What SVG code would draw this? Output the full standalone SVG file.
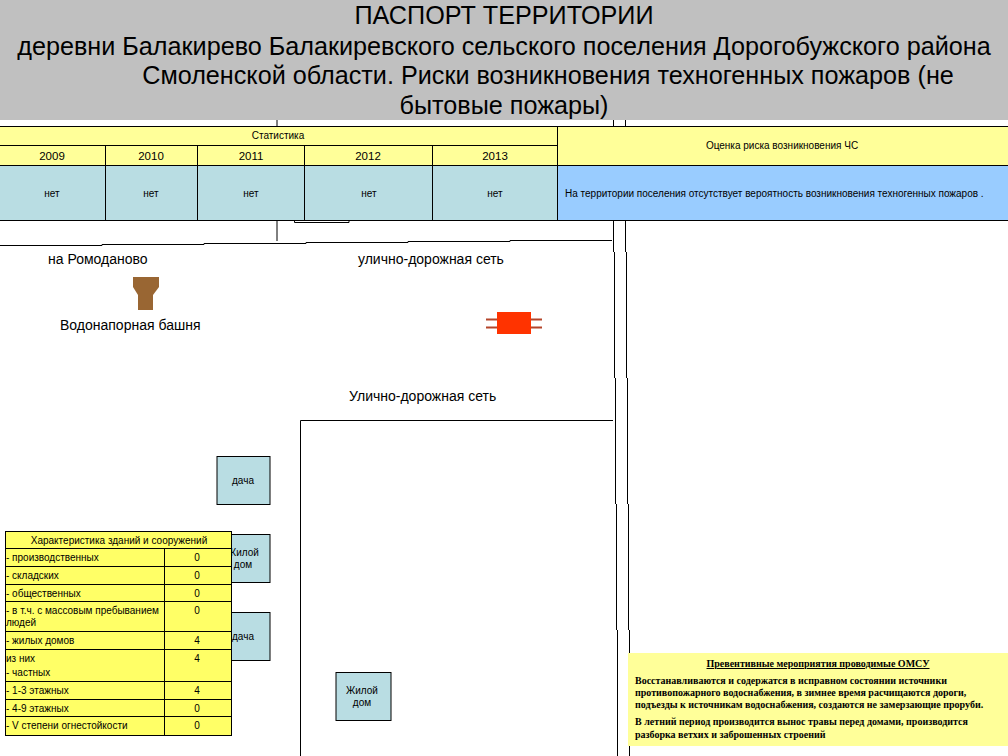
<svg xmlns="http://www.w3.org/2000/svg" width="1008" height="756" viewBox="0 0 1008 756">
<style>
text{font-family:"Liberation Sans",Arial,sans-serif;fill:#000}
.h{font-size:25.2px;text-anchor:middle}
.m{font-size:14px}
.s{font-size:10px;text-anchor:middle}
.t{font-size:10px}
.y{font-size:11.5px;text-anchor:middle}
.ln{fill:none;stroke:#000;stroke-width:1}
.b{fill:#b9dde3;stroke:#000;stroke-width:1}
.yl{fill:#ffff99;stroke:#000;stroke-width:1}
.yy{fill:#ffff66;stroke:#000;stroke-width:1}
.p{font-family:"Liberation Serif",serif;font-size:10px;font-weight:bold}
</style>
<rect width="1008" height="756" fill="#fff"/>
<g id="connectors">
<path class="ln" d="M277 120V241M613.500 120V252M614.500 252V378M615.500 378V504M616.500 504V630M617.500 630V756M625.500 120V252M626.500 252V378M627.500 378V504M628.500 504V630M629.500 630V756M0 245.500H102V244.500H204V243.500H306V242.500H408V241.500H510V240.500H612M294.500 220V222.500H349V220M300.500 756V420.500H613"/>
</g>
<g id="header">
<rect width="1008" height="120" fill="#c0c0c0"/>
<text class="h" x="504" y="24">ПАСПОРТ ТЕРРИТОРИИ</text>
<text class="h" x="504" y="55">деревни Балакирево Балакиревского сельского поселения  Дорогобужского района</text>
<text class="h" x="548" y="84">Смоленской области. Риски возникновения техногенных пожаров (не</text>
<text class="h" x="504" y="114">бытовые пожары)</text>
</g>
<g id="stat-table">
<rect class="yl" x="-1" y="126.500" width="558.500" height="19"/>
<text class="s" x="278" y="138.500">Статистика</text>
<rect class="yl" x="-1" y="145.500" width="106.500" height="20"/>
<rect class="yl" x="105.500" y="145.500" width="92" height="20"/>
<rect class="yl" x="197.500" y="145.500" width="107" height="20"/>
<rect class="yl" x="304.500" y="145.500" width="128" height="20"/>
<rect class="yl" x="432.500" y="145.500" width="125" height="20"/>
<text class="y" x="52" y="160">2009</text><text class="y" x="151" y="160">2010</text><text class="y" x="251" y="160">2011</text><text class="y" x="368" y="160">2012</text><text class="y" x="495" y="160">2013</text>
<rect class="b" x="-1" y="165.500" width="106.500" height="55"/>
<rect class="b" x="105.500" y="165.500" width="92" height="55"/>
<rect class="b" x="197.500" y="165.500" width="107" height="55"/>
<rect class="b" x="304.500" y="165.500" width="128" height="55"/>
<rect class="b" x="432.500" y="165.500" width="125" height="55"/>
<text class="s" x="52" y="197">нет</text><text class="s" x="151" y="197">нет</text><text class="s" x="251" y="197">нет</text><text class="s" x="369" y="197">нет</text><text class="s" x="495" y="197">нет</text>
<rect class="yl" x="557.500" y="126.500" width="452" height="39"/>
<text class="s" x="782" y="149">Оценка риска возникновения ЧС</text>
<rect x="557.500" y="165.500" width="452" height="55" fill="#99ccff" stroke="#000"/>
<text class="t" x="565" y="197">На территории поселения отсутствует вероятность возникновения техногенных пожаров .</text>
</g>
<g id="labels">
<text class="m" x="48" y="264">на Ромоданово</text>
<text class="m" x="358" y="264">улично-дорожная сеть</text>
<text class="m" x="60" y="330">Водонапорная башня</text>
<text class="m" x="349" y="401">Улично-дорожная сеть</text>
</g>
<g id="tower"><path d="M133 277H159V287L153 295V310H138V295L133 287Z" fill="#996633"/></g>
<g id="hydrant"><path d="M486 319.500H497M486 327.500H497M531 319.500H542M531 327.500H542" stroke="#b4452a" stroke-width="2" fill="none"/><rect x="497" y="312" width="34" height="22" fill="#ff3300"/></g>
<g id="dacha-1"><rect class="b" x="217" y="456.500" width="53" height="48"/><text class="s" x="243" y="484">дача</text></g>
<g id="house-1"><rect class="b" x="217" y="534.500" width="53" height="48"/><text class="s" x="243" y="556">Жилой</text><text class="s" x="243" y="568">дом</text></g>
<g id="dacha-2"><rect class="b" x="217" y="612.500" width="53" height="48"/><text class="s" x="243" y="640">дача</text></g>
<g id="house-2"><rect class="b" x="336" y="672.500" width="55" height="48"/><text class="s" x="362" y="694">Жилой</text><text class="s" x="362" y="706">дом</text></g>
<g id="buildings-table">
<rect class="yy" x="5.500" y="531.500" width="226" height="204"/>
<path class="ln" d="M5 548.500H232M5 566.500H232M5 584.500H232M5 601.500H232M5 631.500H232M5 649.500H232M5 681.500H232M5 699.500H232M5 716.500H232M164.500 548V735"/>
<text class="s" x="119" y="544">Характеристика зданий и сооружений</text>
<text class="t" x="6" y="561">- производственных</text><text class="s" x="197" y="561">0</text>
<text class="t" x="6" y="579">- складских</text><text class="s" x="197" y="579">0</text>
<text class="t" x="6" y="597">- общественных</text><text class="s" x="197" y="597">0</text>
<text class="t" x="6" y="614">- в т.ч. с массовым пребыванием</text><text class="s" x="197" y="614">0</text>
<text class="t" x="6" y="626">людей</text>
<text class="t" x="6" y="644">- жилых домов</text><text class="s" x="197" y="644">4</text>
<text class="t" x="6" y="662">из них</text><text class="s" x="197" y="662">4</text>
<text class="t" x="6" y="676">- частных</text>
<text class="t" x="6" y="694">- 1-3 этажных</text><text class="s" x="197" y="694">4</text>
<text class="t" x="6" y="712">- 4-9 этажных</text><text class="s" x="197" y="712">0</text>
<text class="t" x="6" y="729">- V степени огнестойкости</text><text class="s" x="197" y="729">0</text>
</g>
<g id="prevention">
<rect x="628" y="653" width="380" height="93" fill="#ffff99"/>
<text class="p" x="818" y="667" text-anchor="middle" text-decoration="underline">Превентивные мероприятия проводимые ОМСУ</text>
<text class="p" x="635" y="684">Восстанавливаются и содержатся в исправном состоянии источники</text>
<text class="p" x="635" y="696">противопожарного водоснабжения, в зимнее время расчищаются дороги,</text>
<text class="p" x="635" y="708">подъезды к источникам водоснабжения, создаются не замерзающие проруби.</text>
<text class="p" x="635" y="725">В летний период производится вынос травы перед домами, производится</text>
<text class="p" x="635" y="738">разборка ветхих и заброшенных строений</text>
</g>
</svg>
